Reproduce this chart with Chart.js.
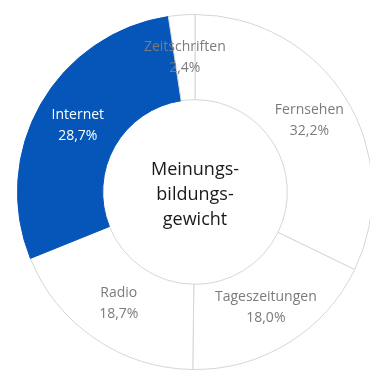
<!DOCTYPE html>
<html>
<head>
<meta charset="utf-8">
<script src="https://cdn.jsdelivr.net/npm/chart.js@4"></script>
<style>
  html, body { margin: 0; padding: 0; background: #fff; overflow: hidden; width: 370px; height: 374px; }
  #wrap { position: absolute; left: 17px; top: 14px; width: 356px; height: 356px; }
</style>
</head>
<body>
<div id="wrap"><canvas id="donut" width="356" height="356"></canvas></div>
<script>
// Meinungsbildungsgewicht der Mediengattungen (Anteile in %)
const categories = ['Fernsehen', 'Tageszeitungen', 'Radio', 'Internet', 'Zeitschriften'];
const shares = [32.2, 18.0, 18.7, 28.7, 2.4];
const shareLabels = ['32,2%', '18,0%', '18,7%', '28,7%', '2,4%'];
const centerLines = ['Meinungs-', 'bildungs-', 'gewicht'];

const blue = '#0556b8';
const fills = ['#ffffff', '#ffffff', '#ffffff', blue, '#ffffff'];
const borders = ['#d6d6d6', '#d6d6d6', '#d6d6d6', blue, '#d6d6d6'];
const labelColors = ['#7b7b7b', '#7b7b7b', '#7b7b7b', '#ffffff', '#7b7b7b'];

const labelPlugin = {
    id: 'sliceLabels',
    afterDraw(chart) {
        const ctx = chart.ctx;
        const meta = chart.getDatasetMeta(0);
        ctx.save();
        ctx.textAlign = 'center';
        ctx.textBaseline = 'middle';
        ctx.font = '14px "Open Sans"';
        meta.data.forEach((arc, i) => {
            const p = arc.getCenterPoint();
            ctx.fillStyle = labelColors[i];
            ctx.fillText(categories[i], p.x, p.y - 10);
            ctx.fillText(shareLabels[i], p.x, p.y + 11);
        });

        // text in the hole
        const c = meta.data[0];
        ctx.fillStyle = '#1a1a1a';
        ctx.font = '18px "Open Sans"';
        centerLines.forEach((line, i) => {
            ctx.fillText(line, c.x, c.y - 22 + i * 25);
        });
        ctx.restore();
    }
};

new Chart(document.getElementById('donut'), {
    type: 'doughnut',
    data: {
        labels: categories,
        datasets: [{
            data: shares,
            backgroundColor: fills,
            borderColor: borders,
            borderWidth: 1,
            hoverOffset: 0
        }]
    },
    options: {
        responsive: false,
        animation: false,
        cutout: '52%',
        events: [],
        plugins: {
            legend: { display: false },
            tooltip: { enabled: false }
        }
    },
    plugins: [labelPlugin]
});
</script>
</body>
</html>
